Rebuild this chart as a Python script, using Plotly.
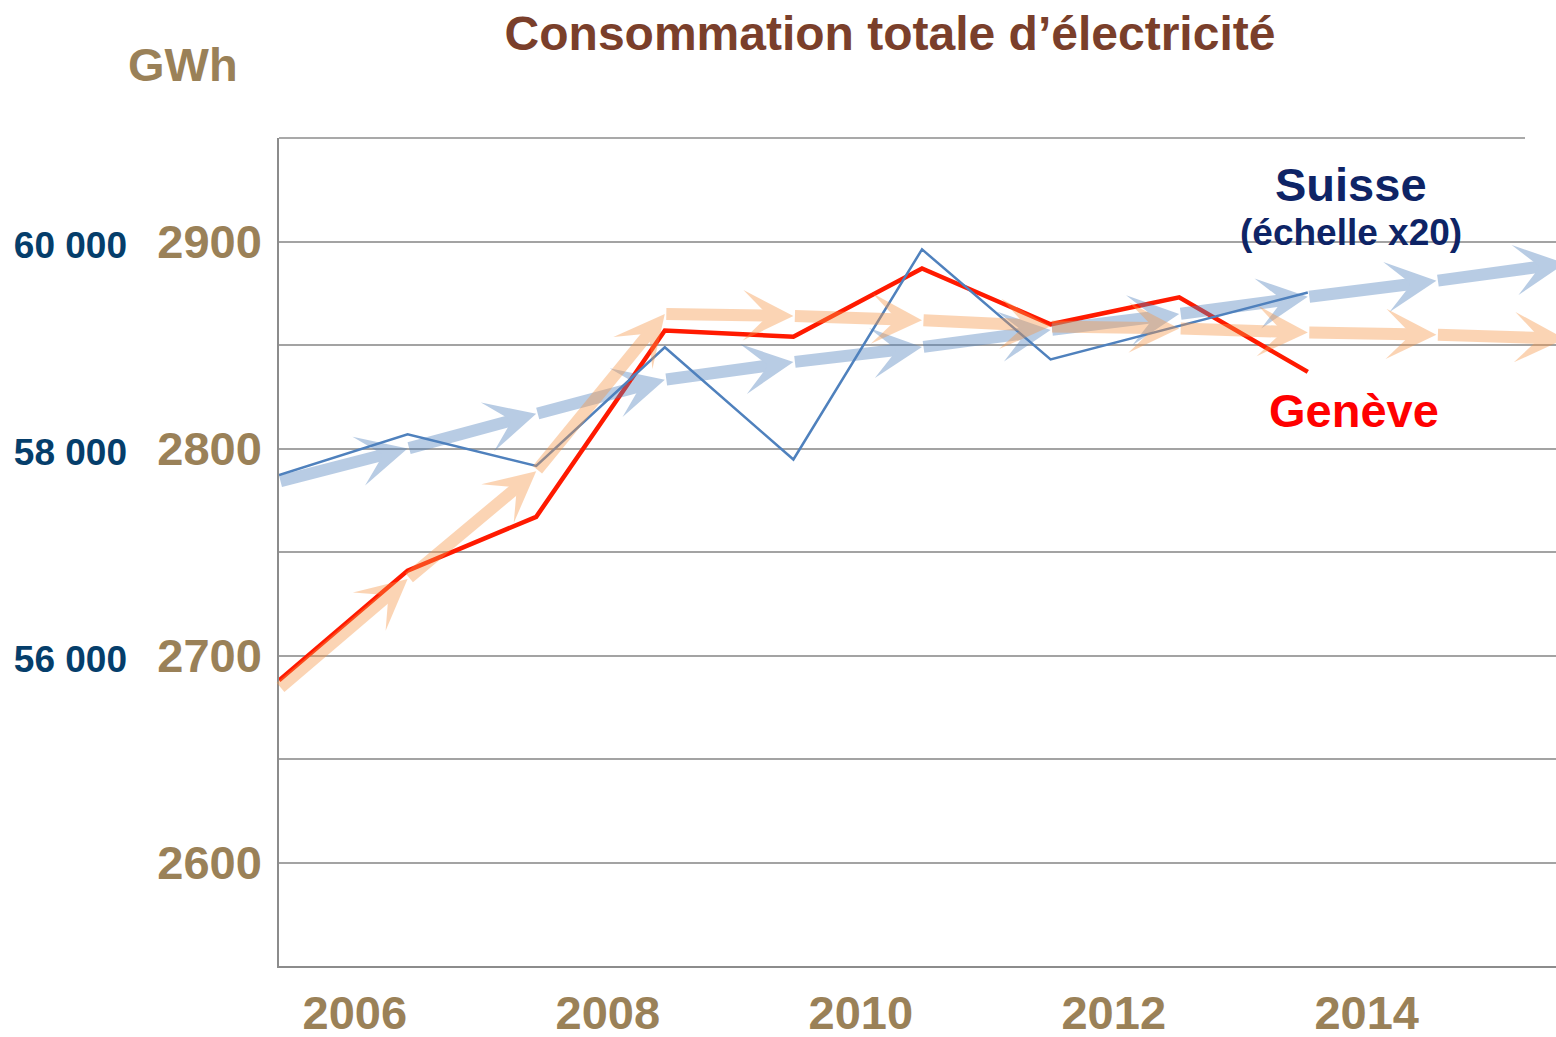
import plotly.graph_objects as go

# ------------ Consommation totale d'électricité : Genève vs Suisse ------------

years = [2006, 2007, 2008, 2009, 2010, 2011, 2012, 2013, 2014]
geneve = [2688, 2741, 2767, 2857, 2854, 2887, 2860, 2873, 2837]          # GWh
suisse = [57744, 58138, 57832, 58978, 57894, 59924, 58860, 59182, 59508]  # GWh (axe de gauche)

# tendances (flèches)
trend_years = [2006, 2007, 2008, 2009, 2010, 2011, 2012, 2013, 2014, 2015, 2016]
geneve_trend = [2684, 2737, 2789, 2865, 2864, 2862, 2859, 2858, 2856, 2855, 2853]
suisse_trend = [57680, 58000, 58335, 58665, 58835, 58980, 59145, 59300, 59465, 59620, 59790]

year_labels = ['2006', '2008', '2010', '2012', '2014']
gwh_ticks = [2600, 2650, 2700, 2750, 2800, 2850, 2900]
suisse_ticks = [56000, 58000, 60000]
suisse_tick_labels = ['56 000', '58 000', '60 000']

TAN = '#9A8158'
NAVY = '#053E6B'
GRID = '#A3A3A3'
FONT = 'Liberation Sans, Arial, sans-serif'

W, H = 1556, 1037
L_PX, T_PX, B_PX = 279, 138, 71


def px_x(px):
    return px / W


def px_y(py):
    return (H - B_PX - py) / (H - T_PX - B_PX)


fig = go.Figure()
fig.add_trace(go.Scatter(x=years, y=suisse, yaxis='y2', mode='lines',
                         line=dict(color='#4F81BD', width=2.5), name='Suisse'))
fig.add_trace(go.Scatter(x=years, y=geneve, mode='lines',
                         line=dict(color='#FF1A00', width=4.5), name='Genève'))

annotations = []


def add_arrows(xs, ys, yref, color):
    for i in range(1, len(xs)):
        annotations.append(dict(
            x=xs[i], y=ys[i], ax=xs[i - 1], ay=ys[i - 1],
            xref='x', yref=yref, axref='x', ayref=yref,
            text='', showarrow=True, arrowhead=3, arrowsize=0.7,
            arrowwidth=12, arrowcolor=color, standoff=0, startstandoff=0))


add_arrows(trend_years, suisse_trend, 'y2', 'rgba(79,129,189,0.4)')
add_arrows(trend_years, geneve_trend, 'y', 'rgba(247,150,70,0.4)')


def label(text, x, y, size, color):
    annotations.append(dict(text=text, x=px_x(x), y=px_y(y), xref='paper', yref='paper',
                            xanchor='center', yanchor='middle', showarrow=False,
                            font=dict(family=FONT, size=size, color=color, weight='bold')))


label('GWh', 183, 64, 47, TAN)
label('Suisse', 1351, 184, 47, '#0E2466')
label('(échelle x20)', 1351, 233, 37, '#0E2466')
label('Genève', 1354, 410, 47, '#FF0000')

label_pos = [2006.59 + i * 1.967 for i in range(len(year_labels))]

fig.update_layout(
    width=W, height=H,
    margin=dict(l=0, r=0, t=T_PX, b=B_PX, autoexpand=False),
    paper_bgcolor='white', plot_bgcolor='white',
    showlegend=False,
    title=dict(text="Consommation totale d’électricité", x=890 / W, xanchor='center',
               y=1 - 33 / H, yanchor='middle',
               font=dict(family=FONT, size=48, color='#7A3F2B', weight='bold')),
    xaxis=dict(domain=[L_PX / W, 1], range=[2006, 2015.93], showgrid=False,
               showline=True, linecolor='#8C8C8C', linewidth=1.5, automargin=False,
               tickvals=label_pos, ticktext=year_labels, ticks='',
               ticklabelstandoff=5,
               tickfont=dict(family=FONT, size=47, color=TAN, weight='bold')),
    yaxis=dict(range=[2550, 2950], tickvals=gwh_ticks, automargin=False,
               ticktext=[str(v) if v % 100 == 0 else '' for v in gwh_ticks],
               showgrid=True, gridcolor=GRID, gridwidth=1.5,
               showline=True, linecolor='#8C8C8C', linewidth=1.5,
               ticks='', ticklabelstandoff=6, zeroline=False,
               tickfont=dict(family=FONT, size=47, color=TAN, weight='bold')),
    yaxis2=dict(range=[53000, 61000], overlaying='y', side='left', anchor='free',
                position=143 / W, tickvals=suisse_ticks, ticktext=suisse_tick_labels,
                showgrid=False, showline=False, zeroline=False, ticks='', automargin=False,
                ticklabelstandoff=16, ticklabelshift=4,
                tickfont=dict(family=FONT, size=37, color=NAVY, weight='bold')),
    annotations=annotations,
    shapes=[dict(type='line', xref='x domain', yref='y domain', x0=0, x1=(1525 - L_PX) / (W - L_PX),
                 y0=1, y1=1, line=dict(color='#8C8C8C', width=1.5))],
)

fig.write_html("out.html", config={'displayModeBar': False},
               post_script="document.body.style.margin='0px';")
